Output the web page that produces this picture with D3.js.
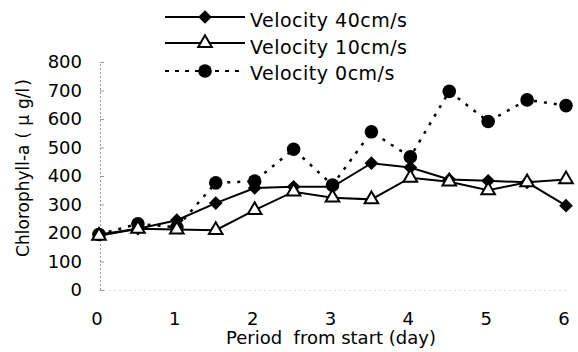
<!DOCTYPE html>
<html>
<head>
<meta charset="utf-8">
<script src="https://cdn.jsdelivr.net/npm/d3@7/dist/d3.min.js"></script>
<style>
  body { margin: 0; background: #fff; }
  svg text { font-family: "DejaVu Sans", "Noto Sans CJK JP", sans-serif; fill: #000; }
</style>
</head>
<body>
<div id="chart"></div>
<script>
// periodo en dias desde el inicio
const days = [0, 0.5, 1, 1.5, 2, 2.5, 3, 3.5, 4, 4.5, 5, 5.5, 6];
const vel40 = [195, 215, 245, 305, 358, 362, 362, 445, 430, 388, 383, 378, 296];
const vel10 = [190, 215, 212, 210, 280, 345, 324, 318, 394, 380, 350, 378, 388];
const vel0 = [195, 232, 220, 376, 382, 494, 368, 555, 467, 697, 591, 667, 647];
const xTicks = [0, 1, 2, 3, 4, 5, 6];
const yTicks = [0, 100, 200, 300, 400, 500, 600, 700, 800];
const seriesNames = ['Velocity 40cm/s', 'Velocity 10cm/s', 'Velocity 0cm/s'];

const width = 578, height = 352;

const svg = d3.select('#chart').append('svg')
  .attr('width', width)
  .attr('height', height);

const x = d3.scaleLinear().domain([0, 6]).range([99, 566]);
const y = d3.scaleLinear().domain([0, 800]).range([290, 62]);

// eje Y (linea punteada gris con marcas pequenas)
const yAxis = svg.append('g')
  .attr('transform', `translate(${x(0) + 1},0)`)
  .call(d3.axisRight(y).tickValues(yTicks).tickSize(4).tickFormat(''));
yAxis.select('.domain').attr('stroke', '#999').attr('stroke-dasharray', '2,2');
yAxis.selectAll('.tick line').attr('stroke', '#999');

// etiquetas del eje Y
svg.append('g').selectAll('text')
  .data(yTicks)
  .enter().append('text')
  .attr('x', 82)
  .attr('y', d => y(d))
  .attr('dy', '0.36em')
  .attr('text-anchor', 'end')
  .style('font-size', '18px')
  .text(d => d);

// eje X
const xAxis = svg.append('g')
  .attr('transform', `translate(0,${y(0)})`)
  .call(d3.axisBottom(x).tickValues(xTicks).tickSize(0).tickFormat(''));
xAxis.select('.domain').attr('stroke', '#bbb').attr('stroke-dasharray', '1,4');

svg.append('g').selectAll('text')
  .data(xTicks)
  .enter().append('text')
  .attr('x', d => x(d) - 2)
  .attr('y', 325)
  .attr('text-anchor', 'middle')
  .style('font-size', '18px')
  .text(d => d);

svg.append('text')
  .attr('x', 331)
  .attr('y', 344)
  .attr('text-anchor', 'middle')
  .style('font-size', '18px')
  .style('white-space', 'pre')
  .text('Period  from start (day)');

// titulo del eje Y con el espaciado del original
const yLabel = svg.append('text')
  .attr('transform', 'translate(29,168) rotate(-90)')
  .attr('text-anchor', 'middle')
  .style('font-size', '17px');
yLabel.append('tspan').text('Chlorophyll-a');
yLabel.append('tspan').attr('dx', 6).text('(');
yLabel.append('tspan').attr('dx', 6).text('\u03bc');
yLabel.append('tspan').attr('dx', 6).text('g/l');
yLabel.append('tspan').attr('dx', 2).text(')');

const line = d3.line()
  .x((d, i) => x(days[i]))
  .y(d => y(d));

// lineas
svg.append('path').datum(vel0)
  .attr('d', line)
  .attr('fill', 'none')
  .attr('stroke', '#000')
  .attr('stroke-width', 2.5)
  .attr('stroke-dasharray', '3,7');

svg.append('path').datum(vel40)
  .attr('d', line)
  .attr('fill', 'none')
  .attr('stroke', '#000')
  .attr('stroke-width', 2);

svg.append('path').datum(vel10)
  .attr('d', line)
  .attr('fill', 'none')
  .attr('stroke', '#000')
  .attr('stroke-width', 2);

// marcadores
const circleSym = d3.symbol().type(d3.symbolCircle).size(145);
const diamondSym = d3.symbol().type(d3.symbolDiamond2).size(120);
const triangleSym = d3.symbol().type(d3.symbolTriangle).size(80);

svg.append('g').selectAll('path')
  .data(vel0)
  .enter().append('path')
  .attr('d', circleSym)
  .attr('transform', (d, i) => `translate(${x(days[i])},${y(d)})`)
  .attr('fill', '#000');

svg.append('g').selectAll('path')
  .data(vel40)
  .enter().append('path')
  .attr('d', diamondSym)
  .attr('transform', (d, i) => `translate(${x(days[i])},${y(d)})`)
  .attr('fill', '#000');

svg.append('g').selectAll('path')
  .data(vel10)
  .enter().append('path')
  .attr('d', triangleSym)
  .attr('transform', (d, i) => `translate(${x(days[i])},${y(d)})`)
  .attr('fill', '#fff')
  .attr('stroke', '#000')
  .attr('stroke-width', 2);

// leyenda
const legendY = [17, 43, 71];
const legendTextY = [27, 53.5, 80];
const legend = svg.append('g');
seriesNames.forEach((name, i) => {
  const ly = legendY[i];
  legend.append('line')
    .attr('x1', 165).attr('x2', 245)
    .attr('y1', ly).attr('y2', ly)
    .attr('stroke', '#000')
    .attr('stroke-width', 2)
    .attr('stroke-dasharray', i === 2 ? '4,6' : null);
  const sym = i === 0 ? diamondSym : (i === 1 ? triangleSym : circleSym);
  legend.append('path')
    .attr('d', sym)
    .attr('transform', `translate(205,${ly})`)
    .attr('fill', i === 1 ? '#fff' : '#000')
    .attr('stroke', i === 1 ? '#000' : null)
    .attr('stroke-width', i === 1 ? 2 : null);
  legend.append('text')
    .attr('x', 250)
    .attr('y', legendTextY[i])
    .style('font-size', '19px')
    .style('letter-spacing', '0.5px')
    .text(name);
});
</script>
</body>
</html>
